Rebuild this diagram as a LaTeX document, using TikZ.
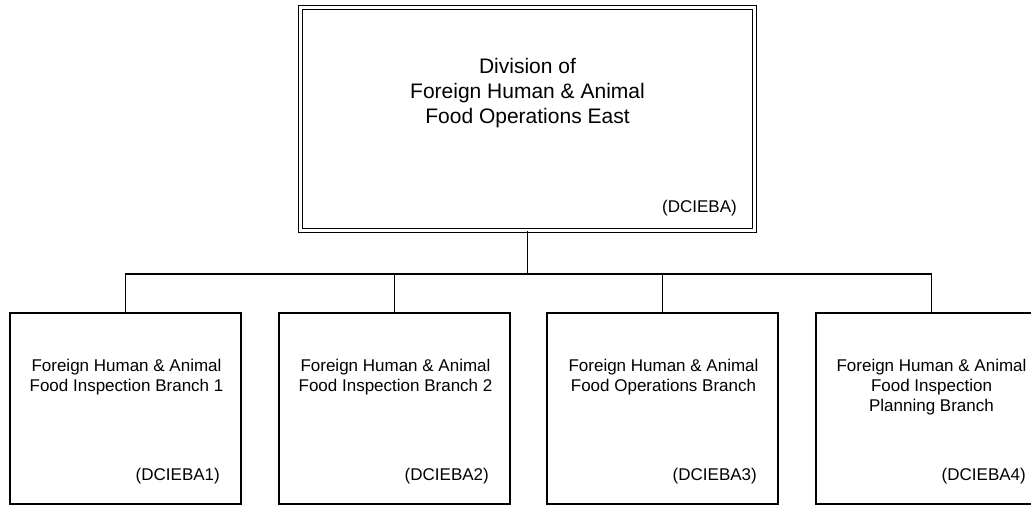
\documentclass[tikz,border=0pt]{standalone}
\usepackage{fontspec}
\setmainfont{Liberation Sans}
\tikzset{
    headbox/.style={draw=black, double, double distance=2.4pt, line width=1.2pt, fill=white, minimum width=454pt, minimum height=223pt, inner sep=0pt},
    branchbox/.style={draw=black, line width=1.5pt, fill=white, minimum width=231pt, minimum height=191pt, inner sep=0pt},
    headtext/.style={align=center, font=\fontsize{21}{25}\selectfont, inner sep=0pt},
    branchtext/.style={align=center, font=\fontsize{17}{20}\selectfont, inner sep=0pt},
    codetext/.style={anchor=east, font=\fontsize{17}{20}\selectfont, inner sep=0pt},
    link/.style={line width=1.5pt}
}
\begin{document}
\begin{tikzpicture}[x=1pt, y=-1pt]
        \useasboundingbox (0,0) rectangle (1031,504);
        \clip (0,0) rectangle (1031,504);
        % head of division
        \node [headbox] (division) at (527.5,119) {};
        \node [headtext] (divname) at (527.5,93) {Division of\\Foreign Human \& Animal\\Food Operations East};
        \node [codetext] (divcode) at (737,208) {(DCIEBA)};
        % branches
        \node [branchbox] (branch1) at (125.5,408.5) {};
        \node [branchbox] (branch2) at (394.5,408.5) {};
        \node [branchbox] (branch3) at (662.5,408.5) {};
        \node [branchbox] (branch4) at (931.5,408.5) {};
        \node [branchtext] (bname1) at (126.5,377) {Foreign Human \& Animal\\Food Inspection Branch 1};
        \node [branchtext] (bname2) at (395.5,377) {Foreign Human \& Animal\\Food Inspection Branch 2};
        \node [branchtext] (bname3) at (663.5,377) {Foreign Human \& Animal\\Food Operations Branch};
        \node [branchtext] (bname4) at (931.5,387) {Foreign Human \& Animal\\Food Inspection\\Planning Branch};
        \node [codetext] (bcode1) at (220,476) {(DCIEBA1)};
        \node [codetext] (bcode2) at (489,476) {(DCIEBA2)};
        \node [codetext] (bcode3) at (757,476) {(DCIEBA3)};
        \node [codetext] (bcode4) at (1026,476) {(DCIEBA4)};
        % connectors
        \coordinate (bus) at (527.5,274);
        \draw [link] (division.south) -- (bus);
        \draw [link] (branch1.north) |- (bus) -| (branch4.north);
        \draw [link] (branch2.north) -- (branch2.north |- bus);
        \draw [link] (branch3.north) -- (branch3.north |- bus);
    \end{tikzpicture}
\end{document}
